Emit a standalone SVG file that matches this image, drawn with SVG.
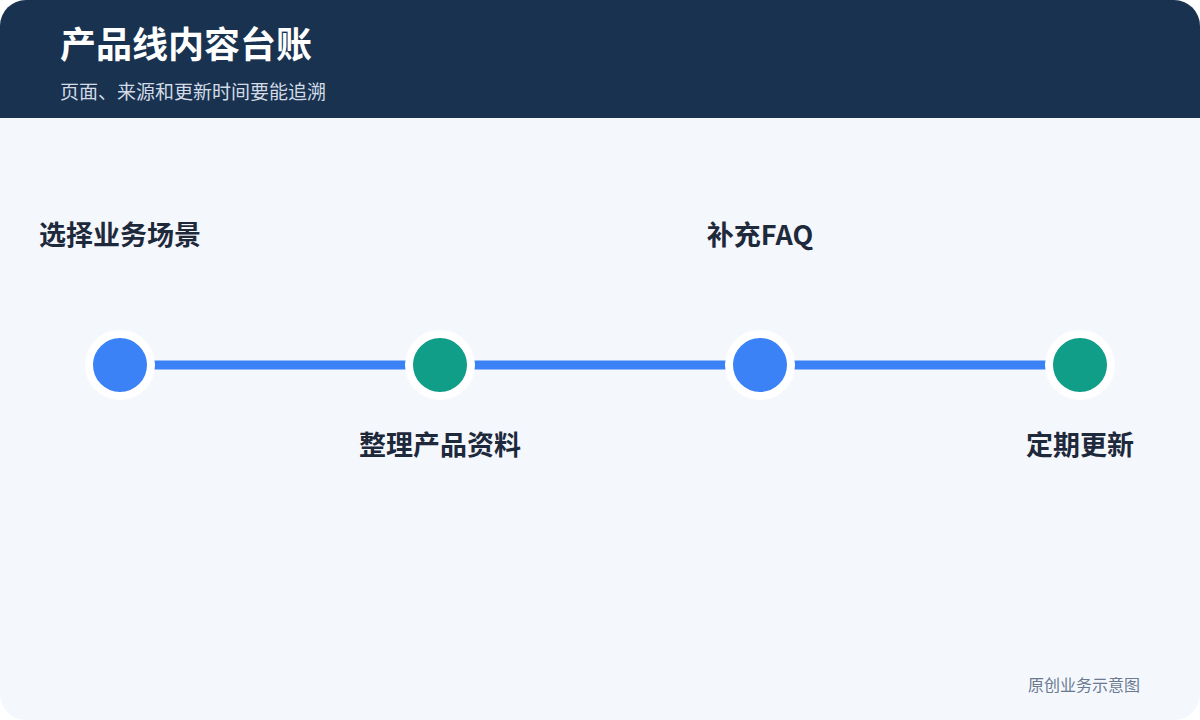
<svg xmlns="http://www.w3.org/2000/svg" width="1200" height="720" viewBox="0 0 1200 720">
<style>
.lbl{font-family:"Noto Sans CJK SC","Noto Sans",sans-serif;font-weight:700;font-size:27px;fill:#1e293b;text-anchor:middle}
.ring{stroke:#ffffff;stroke-width:8}
.blue{fill:#3b82f6}
.green{fill:#109e89}
.conn{stroke:#3b82f6;stroke-width:9;fill:none}
</style>
<defs>
<clipPath id="card"><rect x="0" y="0" width="1200" height="720" rx="26" ry="26"/></clipPath>
</defs>
<rect x="0" y="0" width="1200" height="720" fill="#ffffff"/>
<g clip-path="url(#card)">
<rect x="0" y="0" width="1200" height="720" fill="#f4f8fd"/>
<rect x="0" y="0" width="1200" height="118" fill="#183250"/>
</g>
<g id="header">
<text x="60" y="58" font-family="Noto Sans CJK SC,Noto Sans,sans-serif" font-weight="700" font-size="36" fill="#ffffff">产品线内容台账</text>
<text x="60" y="99" font-family="Noto Sans CJK SC,Noto Sans,sans-serif" font-size="19" fill="#d3dbe6">页面、来源和更新时间要能追溯</text>
</g>
<g id="connectors">
<line class="conn" x1="120" y1="365" x2="440" y2="365"/>
<line class="conn" x1="440" y1="365" x2="760" y2="365"/>
<line class="conn" x1="760" y1="365" x2="1080" y2="365"/>
</g>
<g id="n1">
<circle class="blue ring" cx="120" cy="365" r="31"/>
<text class="lbl" x="120" y="245">选择业务场景</text>
</g>
<g id="n2">
<circle class="green ring" cx="440" cy="365" r="31"/>
<text class="lbl" x="440" y="455">整理产品资料</text>
</g>
<g id="n3">
<circle class="blue ring" cx="760" cy="365" r="31"/>
<text class="lbl" x="760" y="245">补充FAQ</text>
</g>
<g id="n4">
<circle class="green ring" cx="1080" cy="365" r="31"/>
<text class="lbl" x="1080" y="455">定期更新</text>
</g>
<text x="1140" y="691" text-anchor="end" font-family="Noto Sans CJK SC,Noto Sans,sans-serif" font-size="16" fill="#6b7a90">原创业务示意图</text>
</svg>
